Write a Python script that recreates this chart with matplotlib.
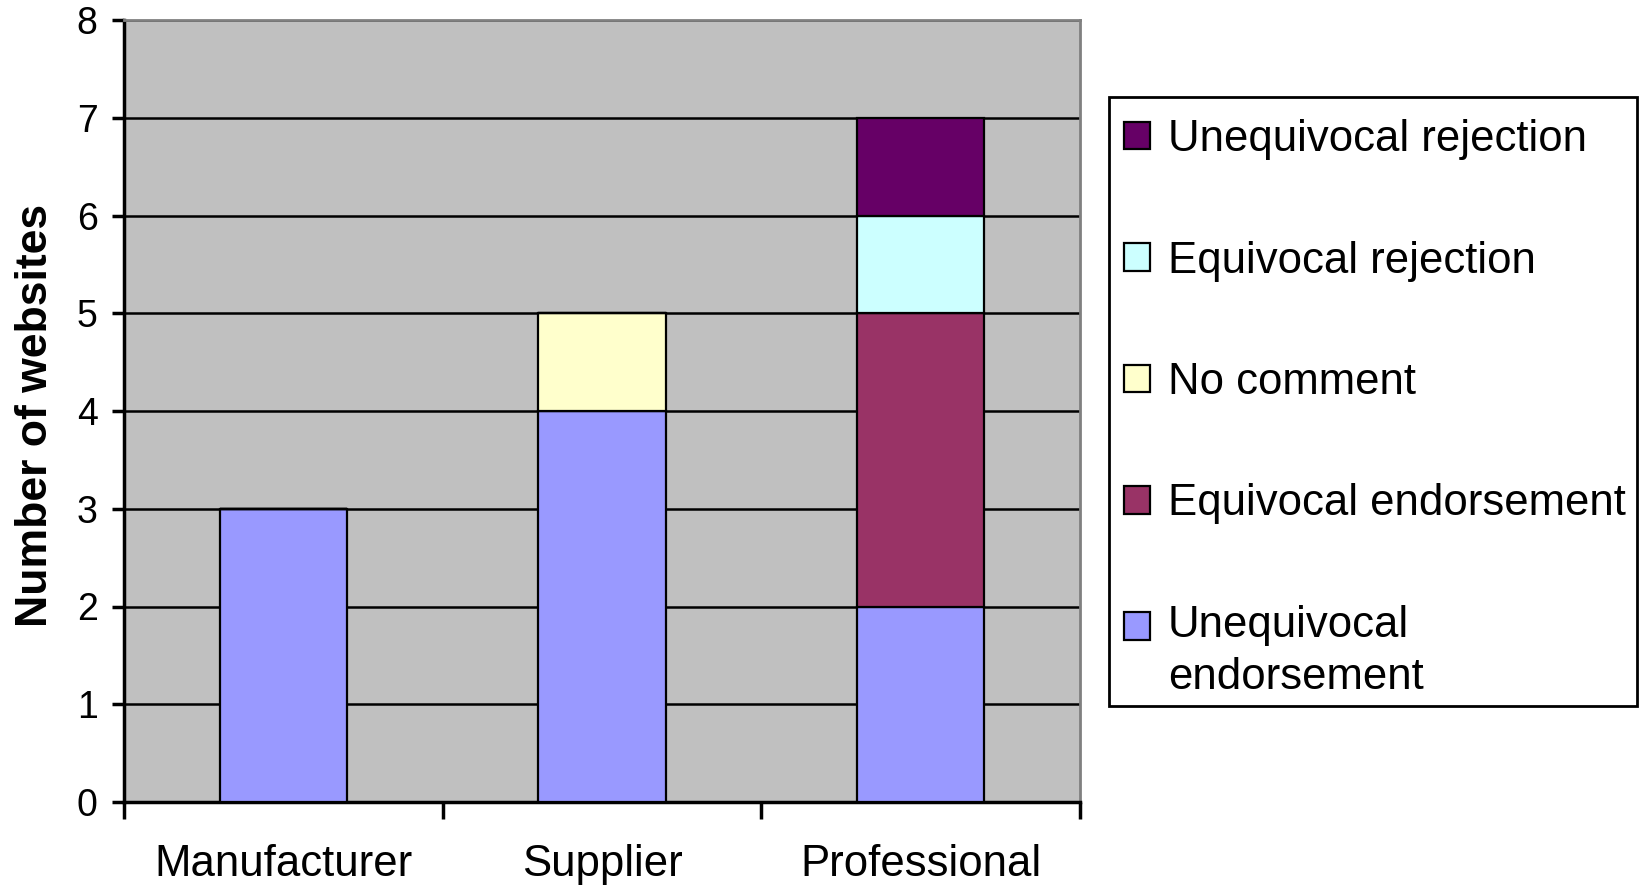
import numpy as np
import matplotlib.pyplot as plt
from matplotlib.ticker import FixedLocator
from matplotlib.patches import Rectangle
from matplotlib.legend_handler import HandlerPatch

plt.rcParams['font.family'] = ['Liberation Sans', 'DejaVu Sans']

# data
categories = ['Manufacturer', 'Supplier', 'Professional']
series_names = ['Unequivocal\nendorsement', 'Equivocal endorsement', 'No comment',
                'Equivocal rejection', 'Unequivocal rejection']
unequivocal_endorsement = [3, 4, 2]
equivocal_endorsement = [0, 0, 3]
no_comment = [0, 1, 0]
equivocal_rejection = [0, 0, 1]
unequivocal_rejection = [0, 0, 1]
colors = ['#9999FF', '#993366', '#FFFFCC', '#CCFFFF', '#660066']

series = [unequivocal_endorsement, equivocal_endorsement, no_comment,
          equivocal_rejection, unequivocal_rejection]

W, H = 1642, 886
fig = plt.figure(figsize=(W/100, H/100), dpi=100)
ax = fig.add_axes([124/W, 1 - 802/H, (1080 - 124)/W, (802 - 20)/H])
ax.set_facecolor('#C0C0C0')

x = np.arange(len(categories))
bottom = np.zeros(len(categories))
handles = []
for vals, name, c in zip(series, series_names, colors):
    vals = np.array(vals, dtype=float)
    b = ax.bar(x, vals, 0.4, bottom=bottom, color=c, edgecolor='black',
               linewidth=1.6, label=name, zorder=3)
    handles.append(b.patches[0])
    bottom += vals

ax.set_xlim(-0.5, 2.5)
ax.set_ylim(0, 8)
ax.set_yticks(range(0, 9))
ax.tick_params(axis='y', labelsize=27, length=9, width=2.5, pad=10)
ax.yaxis.grid(True, color='black', linewidth=1.8, zorder=1)
ax.set_axisbelow(True)

# category boundaries as ticks, names centred between them
ax.xaxis.set_major_locator(FixedLocator([-0.5, 0.5, 1.5, 2.5]))
ax.set_xticklabels([])
ax.xaxis.set_minor_locator(FixedLocator(x))
ax.set_xticks(x, categories, minor=True)
ax.tick_params(axis='x', which='major', length=12, width=2.5)
ax.tick_params(axis='x', which='minor', length=0, labelsize=31.5, pad=30)

for s in ['left', 'bottom']:
    ax.spines[s].set_linewidth(2.5)
    ax.spines[s].set_color('black')
for s in ['top', 'right']:
    ax.spines[s].set_linewidth(2)
    ax.spines[s].set_color('#808080')

ax.set_ylabel('Number of websites', fontsize=32, fontweight='bold')
ax.yaxis.set_label_coords(-0.0715, 0.494)


# square handle lifted to the first line of a two-line label
def top_square(legend, orig_handle, xdescent, ydescent, width, height, fontsize):
    return Rectangle((-xdescent, -ydescent + 19), width, height)


# legend frame drawn separately so its padding can differ from the entries'
fig.patches.append(Rectangle((1109/W, 1 - 706/H), (1637 - 1109)/W, (706 - 97)/H,
                             transform=fig.transFigure, facecolor='white',
                             edgecolor='black', linewidth=2, zorder=0))

leg_handles = handles[::-1]
leg = fig.legend(leg_handles, series_names[::-1], loc='upper left',
                 bbox_to_anchor=(1124/W, 1 - 119/H), fontsize=31.5,
                 frameon=False, handlelength=0.6, handleheight=0.6,
                 handletextpad=0.4, labelspacing=1.84, borderpad=0,
                 borderaxespad=0,
                 handler_map={leg_handles[-1]: HandlerPatch(patch_func=top_square)})
leg.get_texts()[-1].set_linespacing(1.35)

fig.savefig('out.png', dpi=100, facecolor='white')
